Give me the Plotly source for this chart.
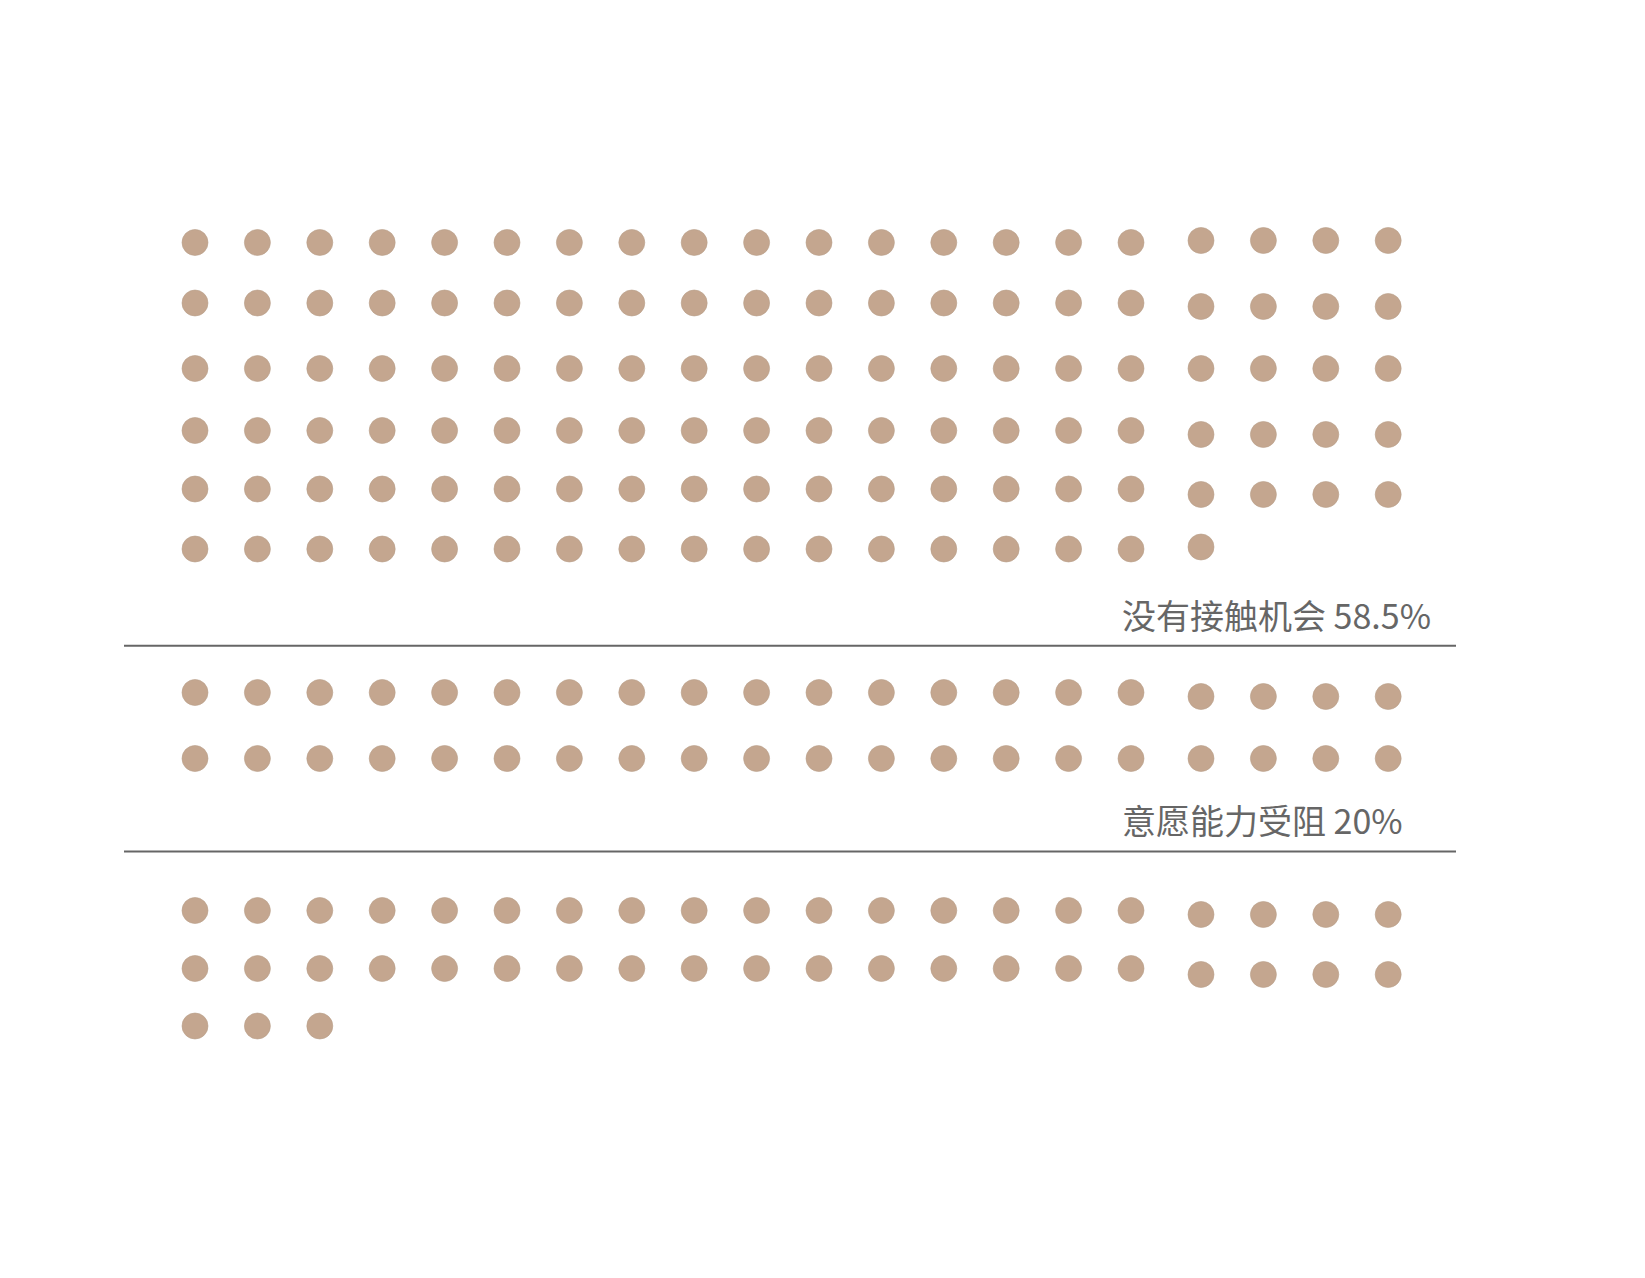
import plotly.graph_objects as go

# ---- data ----
categories = ["没有接触机会", "意愿能力受阻", "其他"]
dot_counts = [117, 40, 43]          # out of 200 dots (0.5% each)
percent_labels = ["58.5%", "20%", "21.5%"]
show_label = [True, True, False]

# ---- layout constants (pixels) ----
W, H = 1645, 1278
COLS = 20
SPLIT = 16                     # columns 1-16 form block A, 17-20 block B
X0_A, X0_B, DX = 195.0, 1201.0, 62.4
# row centre y for each section, per block
ROWS_A = [[242.5, 303, 368.5, 430.5, 489, 549], [692.5, 758.5], [910.5, 968.5, 1026]]
ROWS_B = [[240.5, 306.5, 368.5, 434.5, 494.5, 547], [696.5, 758.5], [914.5, 974.5, 1030]]
LABEL_Y = [614, 819, None]
LABEL_X = 1120
DIVIDER_Y = [645.7, 851.5]
DIVIDER_X = (124, 1456)

DOT_COLOR = "#C4A68F"
TEXT_COLOR = "#666666"

fig = go.Figure()

for s, n in enumerate(dot_counts):
    xs, ys = [], []
    for i in range(n):
        r, c = divmod(i, COLS)
        if c < SPLIT:
            xs.append(X0_A + c * DX)
            ys.append(ROWS_A[s][r])
        else:
            xs.append(X0_B + (c - SPLIT) * DX)
            ys.append(ROWS_B[s][r])
    fig.add_trace(go.Scatter(
        x=xs, y=ys, mode="markers", name=categories[s],
        marker=dict(size=26, color=DOT_COLOR, line=dict(width=0.6, color="#B8A089")),
        hoverinfo="name", showlegend=False))
    if show_label[s]:
        fig.add_annotation(x=LABEL_X, y=LABEL_Y[s], xref="x", yref="y",
                           text=f"{categories[s]} {percent_labels[s]}",
                           showarrow=False, xanchor="left", yanchor="middle",
                           font=dict(family="Noto Sans CJK SC, Noto Sans, sans-serif",
                                     size=34, color=TEXT_COLOR))

for y in DIVIDER_Y:
    fig.add_shape(type="line", xref="x", yref="y", x0=DIVIDER_X[0], x1=DIVIDER_X[1],
                  y0=y, y1=y, line=dict(color=TEXT_COLOR, width=2))

fig.update_layout(
    width=W, height=H, margin=dict(l=0, r=0, t=0, b=0),
    paper_bgcolor="white", plot_bgcolor="white",
    xaxis=dict(range=[0, W], visible=False, fixedrange=True),
    yaxis=dict(range=[H, 0], visible=False, fixedrange=True),
)

fig.write_html("out.html")
